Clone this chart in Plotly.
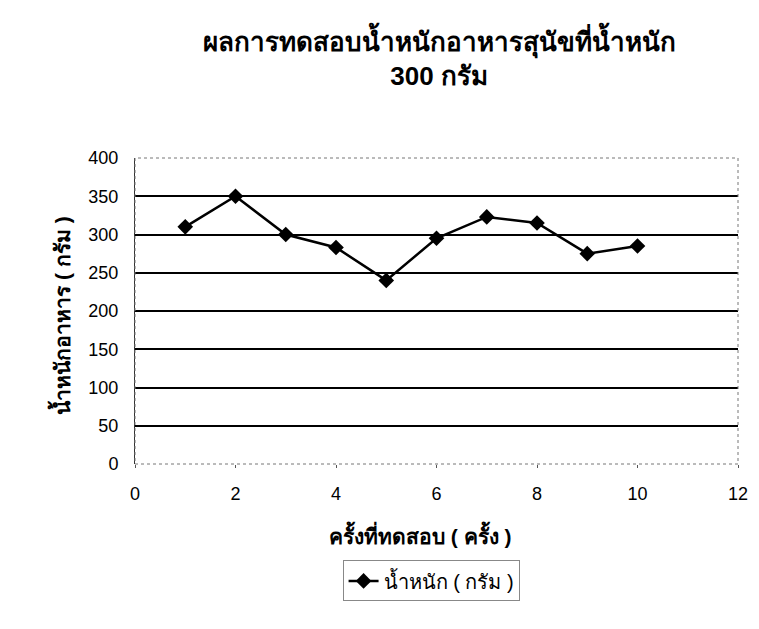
import plotly.graph_objects as go

trial = [1, 2, 3, 4, 5, 6, 7, 8, 9, 10]
weight = [310, 350, 300, 283, 240, 295, 323, 315, 275, 285]
series_name = "น้ำหนัก ( กรัม )"
title_text = "ผลการทดสอบน้ำหนักอาหารสุนัขที่น้ำหนัก<br>300 กรัม"
x_title = "ครั้งที่ทดสอบ ( ครั้ง )"
y_title = "น้ำหนักอาหาร ( กรัม )"

fig = go.Figure()
fig.add_trace(go.Scatter(
    x=trial, y=weight, mode="lines+markers", name=series_name,
    line=dict(color="black", width=2.5),
    marker=dict(symbol="diamond", size=12, color="black"),
))

fig.update_layout(
    width=759, height=629,
    margin=dict(l=127, r=29, t=150, b=173),
    paper_bgcolor="white", plot_bgcolor="white",
    font=dict(family="Liberation Sans, Arial, sans-serif", color="black", size=18),
    title=dict(text="<b>" + title_text + "</b>", x=0.568, xanchor="center",
               y=0.931, yanchor="top", font=dict(size=26)),
    showlegend=True,
    legend=dict(orientation="h", x=0.491, xanchor="center", y=-0.382, yanchor="middle",
                bordercolor="#888", borderwidth=1, bgcolor="rgba(0,0,0,0)",
                font=dict(size=20)),
    xaxis=dict(range=[0, 12], dtick=2, showgrid=False, zeroline=False,
               ticks="outside", ticklen=3, tickcolor="#555", showline=False,
               ticklabelstandoff=10),
    yaxis=dict(range=[0, 400], dtick=50, showgrid=True, gridcolor="black", gridwidth=1.5,
               zeroline=False, showline=True, linecolor="#333", linewidth=1,
               ticks="", ticklabelstandoff=12),
    annotations=[
        dict(text="<b>" + x_title + "</b>", xref="paper", yref="paper",
             x=0.474, y=-0.229, xanchor="center", yanchor="middle",
             showarrow=False, font=dict(size=21)),
        dict(text="<b>" + y_title + "</b>", xref="paper", yref="paper",
             x=-0.123, y=0.487, xanchor="center", yanchor="middle",
             textangle=-90, showarrow=False, font=dict(size=21)),
    ],
)

fig.add_shape(type="rect", xref="paper", yref="paper", x0=0, y0=0, x1=1, y1=1,
              line=dict(color="#777", width=1, dash="dot"), layer="above")

fig.write_html("out.html")
